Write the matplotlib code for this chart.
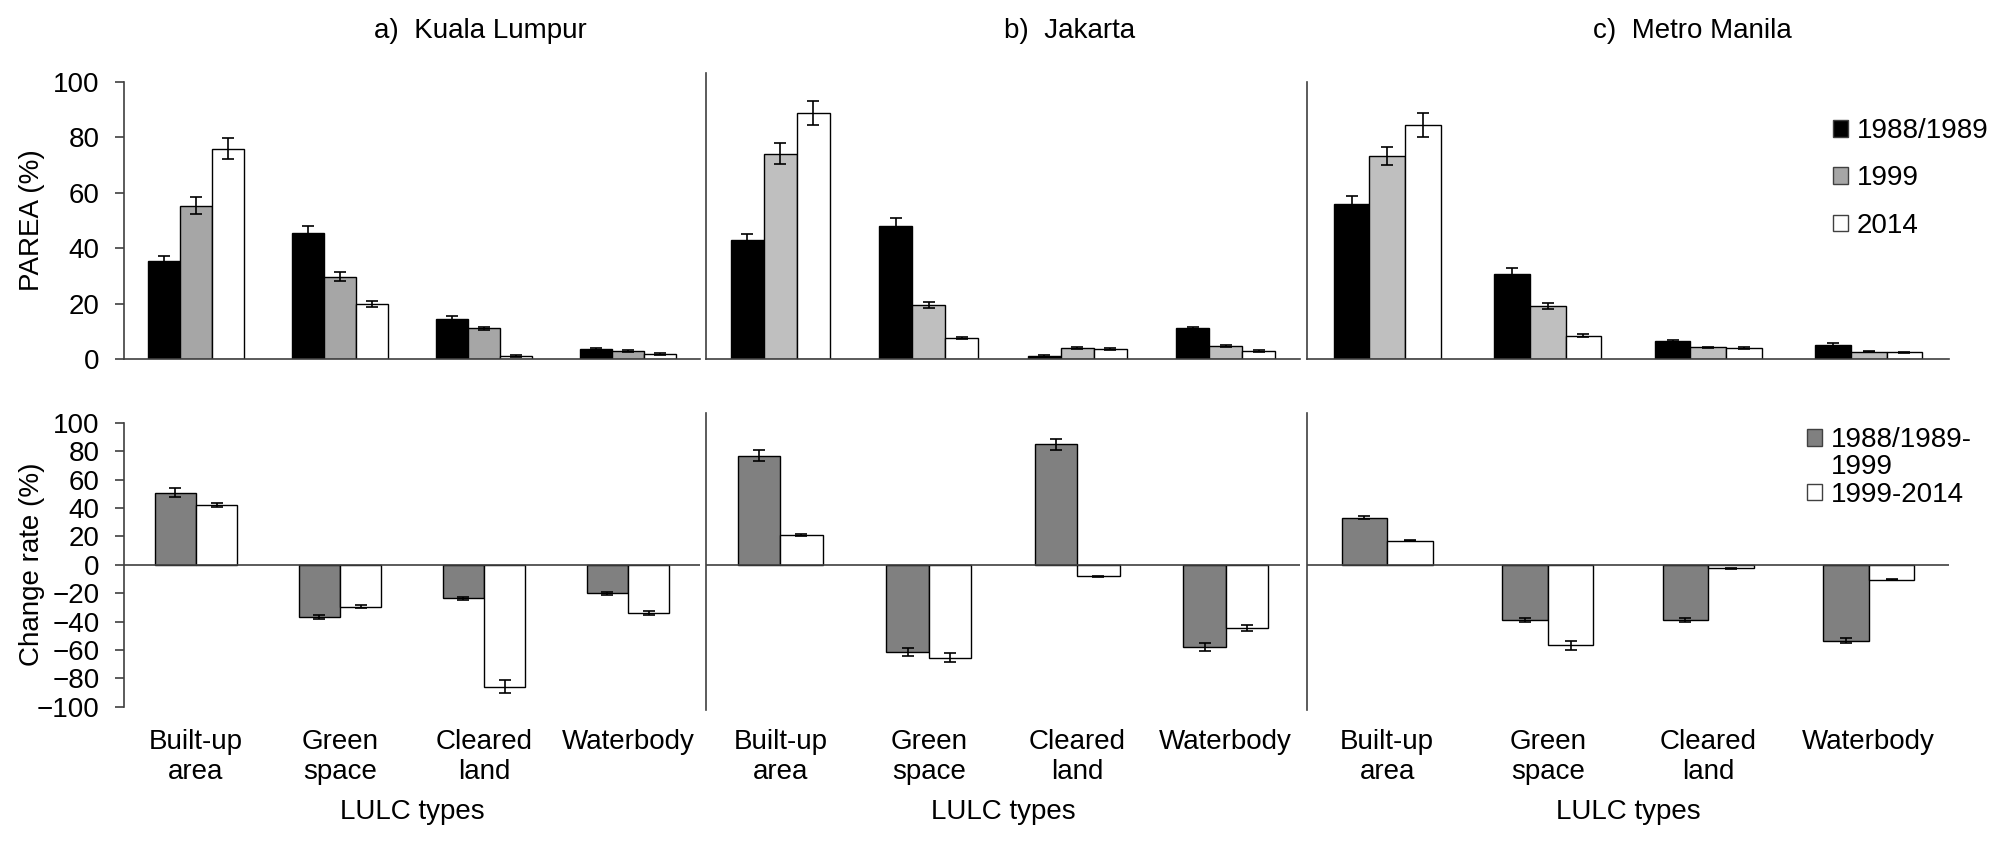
import numpy as np
import matplotlib.pyplot as plt
from matplotlib.patches import Patch

plt.rcParams['font.family'] = ['Liberation Sans', 'DejaVu Sans']

categories = ['Built-up\narea', 'Green\nspace', 'Cleared\nland', 'Waterbody']
cities = ['a)  Kuala Lumpur', 'b)  Jakarta', 'c)  Metro Manila']
parea_years = ['1988/1989', '1999', '2014']
change_periods = ['1988/1989-', '1999', '1999-2014']

# PAREA (%) by LULC type, one list per year, with error bar half-widths
kl_parea_1988 = [35.5, 45.6, 14.5, 3.7]
kl_parea_1999 = [55.3, 29.8, 11.1, 3.0]
kl_parea_2014 = [75.9, 19.9, 1.3, 1.8]
kl_parea_1988_err = [1.8, 2.5, 1.0, 0.3]
kl_parea_1999_err = [3.0, 1.5, 0.5, 0.3]
kl_parea_2014_err = [3.7, 1.1, 0.3, 0.4]

jk_parea_1988 = [43.0, 48.0, 1.1, 11.4]
jk_parea_1999 = [74.1, 19.6, 4.0, 4.8]
jk_parea_2014 = [88.8, 7.6, 3.8, 3.0]
jk_parea_1988_err = [2.3, 2.8, 0.3, 0.4]
jk_parea_1999_err = [3.7, 1.0, 0.4, 0.4]
jk_parea_2014_err = [4.3, 0.4, 0.3, 0.3]

mm_parea_1988 = [55.9, 30.9, 6.7, 5.3]
mm_parea_1999 = [73.2, 19.2, 4.3, 2.8]
mm_parea_2014 = [84.3, 8.5, 4.0, 2.5]
mm_parea_1988_err = [2.8, 1.9, 0.4, 0.4]
mm_parea_1999_err = [3.3, 1.0, 0.3, 0.3]
mm_parea_2014_err = [4.4, 0.5, 0.3, 0.3]

# change rate (%) by LULC type, one list per period
kl_change_8899 = [50.8, -36.7, -23.8, -20.0]
kl_change_9914 = [41.9, -29.6, -85.9, -33.9]
kl_change_8899_err = [3.0, 1.5, 1.0, 1.0]
kl_change_9914_err = [1.5, 1.0, 4.5, 1.5]

jk_change_8899 = [76.7, -61.6, 84.7, -58.1]
jk_change_9914 = [20.9, -65.4, -8.2, -44.7]
jk_change_8899_err = [4.0, 3.0, 4.0, 3.0]
jk_change_9914_err = [1.0, 3.0, 0.3, 2.0]

mm_change_8899 = [33.0, -38.8, -38.8, -53.4]
mm_change_9914 = [17.0, -56.9, -2.6, -10.6]
mm_change_8899_err = [1.0, 1.5, 1.5, 2.0]
mm_change_9914_err = [0.5, 3.0, 0.3, 0.3]

parea = [
    [kl_parea_1988, kl_parea_1999, kl_parea_2014],
    [jk_parea_1988, jk_parea_1999, jk_parea_2014],
    [mm_parea_1988, mm_parea_1999, mm_parea_2014],
]
parea_err = [
    [kl_parea_1988_err, kl_parea_1999_err, kl_parea_2014_err],
    [jk_parea_1988_err, jk_parea_1999_err, jk_parea_2014_err],
    [mm_parea_1988_err, mm_parea_1999_err, mm_parea_2014_err],
]
change = [
    [kl_change_8899, kl_change_9914],
    [jk_change_8899, jk_change_9914],
    [mm_change_8899, mm_change_9914],
]
change_err = [
    [kl_change_8899_err, kl_change_9914_err],
    [jk_change_8899_err, jk_change_9914_err],
    [mm_change_8899_err, mm_change_9914_err],
]

W, H = 1998, 848
FS = 20
LINE = '#404040'

top_colors = [
    ['black', '#a6a6a6', 'white'],
    ['black', '#bfbfbf', 'white'],
    ['black', '#bfbfbf', 'white'],
]
bottom_colors = ['#808080', 'white']

# panel geometry in pixels: x range, top row y range, bottom row y range
col_x = [(124, 700), (706, 1300), (1307, 1949)]
top_y = [(81.7, 359.3), (73, 359.3), (81.7, 359.3)]
bot_y = [(422.7, 706.7), (413, 710), (413, 710)]
title_x = [480, 1070, 1692]


def add_axes_px(fig, x0, x1, y_top, y_bot):
    return fig.add_axes([x0 / W, 1 - y_bot / H, (x1 - x0) / W, (y_bot - y_top) / H])


fig = plt.figure(figsize=(W / 100, H / 100), dpi=100)
x = np.arange(len(categories))
err_kw = dict(ecolor='black', elinewidth=1.2, capthick=1.2)

for i in range(3):
    # top row: PAREA
    ax = add_axes_px(fig, col_x[i][0], col_x[i][1], *top_y[i])
    bw = 0.222
    for j in range(3):
        ax.bar(x + (j - 1) * bw, parea[i][j], bw, color=top_colors[i][j],
               edgecolor='black', linewidth=1.0, yerr=parea_err[i][j],
               capsize=4.5, error_kw=err_kw, zorder=2)
    px_per_unit = (359.3 - 81.7) / 100
    ax.set_ylim(0, (359.3 - top_y[i][0]) / px_per_unit)
    ax.set_xlim(-0.5, 3.5)
    ax.set_xticks([])
    for s in ['top', 'right']:
        ax.spines[s].set_visible(False)
    for s in ['left', 'bottom']:
        ax.spines[s].set_color(LINE)
        ax.spines[s].set_linewidth(1.2)
    if i == 0:
        ax.set_yticks(np.arange(0, 101, 20))
        ax.tick_params(axis='y', labelsize=FS, length=6.5, width=1.2,
                       color=LINE, pad=11)
        ax.set_ylabel('PAREA (%)', fontsize=FS)
        ax.yaxis.set_label_coords(-0.137, 0.5)
    else:
        ax.set_yticks([])
    fig.text(title_x[i] / W, 1 - 31 / H, cities[i], fontsize=FS,
             ha='center', va='center')

    # bottom row: change rate
    ax2 = add_axes_px(fig, col_x[i][0], col_x[i][1], *bot_y[i])
    bw2 = 0.285
    for j in range(2):
        ax2.bar(x + (j - 0.5) * bw2, change[i][j], bw2, color=bottom_colors[j],
                edgecolor='black', linewidth=1.0, yerr=change_err[i][j],
                capsize=4.5, error_kw=err_kw, zorder=2)
    zero_y = 564.7
    scale = (706.7 - 422.7) / 200
    ax2.set_ylim(-(bot_y[i][1] - zero_y) / scale, (zero_y - bot_y[i][0]) / scale)
    ax2.set_xlim(-0.5, 3.5)
    ax2.axhline(0, color=LINE, linewidth=1.2, zorder=3)
    for s in ['top', 'right', 'bottom']:
        ax2.spines[s].set_visible(False)
    ax2.spines['left'].set_color(LINE)
    ax2.spines['left'].set_linewidth(1.2)
    ax2.set_xticks(x, categories)
    pad = 16 if i == 0 else 13.5
    ax2.tick_params(axis='x', length=0, labelsize=FS, pad=pad)
    ax2.set_xlabel('LULC types', fontsize=FS, labelpad=10)
    if i == 0:
        ax2.set_yticks(np.arange(-100, 101, 20))
        ax2.tick_params(axis='y', labelsize=FS, length=6.5, width=1.2,
                        color=LINE, pad=11)
        ax2.set_ylabel('Change rate (%)', fontsize=FS)
        ax2.yaxis.set_label_coords(-0.137, 0.5)
    else:
        ax2.set_yticks([])

# legends
top_handles = [Patch(facecolor=c, edgecolor=LINE, linewidth=1.0)
               for c in ['black', '#a6a6a6', 'white']]
fig.legend(top_handles, parea_years, loc='upper left',
           bbox_to_anchor=(1833 / W, 1 - 118 / H), frameon=False, fontsize=FS,
           handlelength=0.55, handleheight=0.55, handletextpad=0.3,
           labelspacing=0.77, borderpad=0, borderaxespad=0)

bottom_handles = [Patch(facecolor='#808080', edgecolor=LINE, linewidth=1.0),
                  Patch(facecolor='none', edgecolor='none', linewidth=0),
                  Patch(facecolor='white', edgecolor=LINE, linewidth=1.0)]
fig.legend(bottom_handles, change_periods, loc='upper left',
           bbox_to_anchor=(1807 / W, 1 - 427 / H), frameon=False, fontsize=FS,
           handlelength=0.55, handleheight=0.55, handletextpad=0.3,
           labelspacing=0.05, borderpad=0, borderaxespad=0)

fig.savefig('out.png', dpi=100)
